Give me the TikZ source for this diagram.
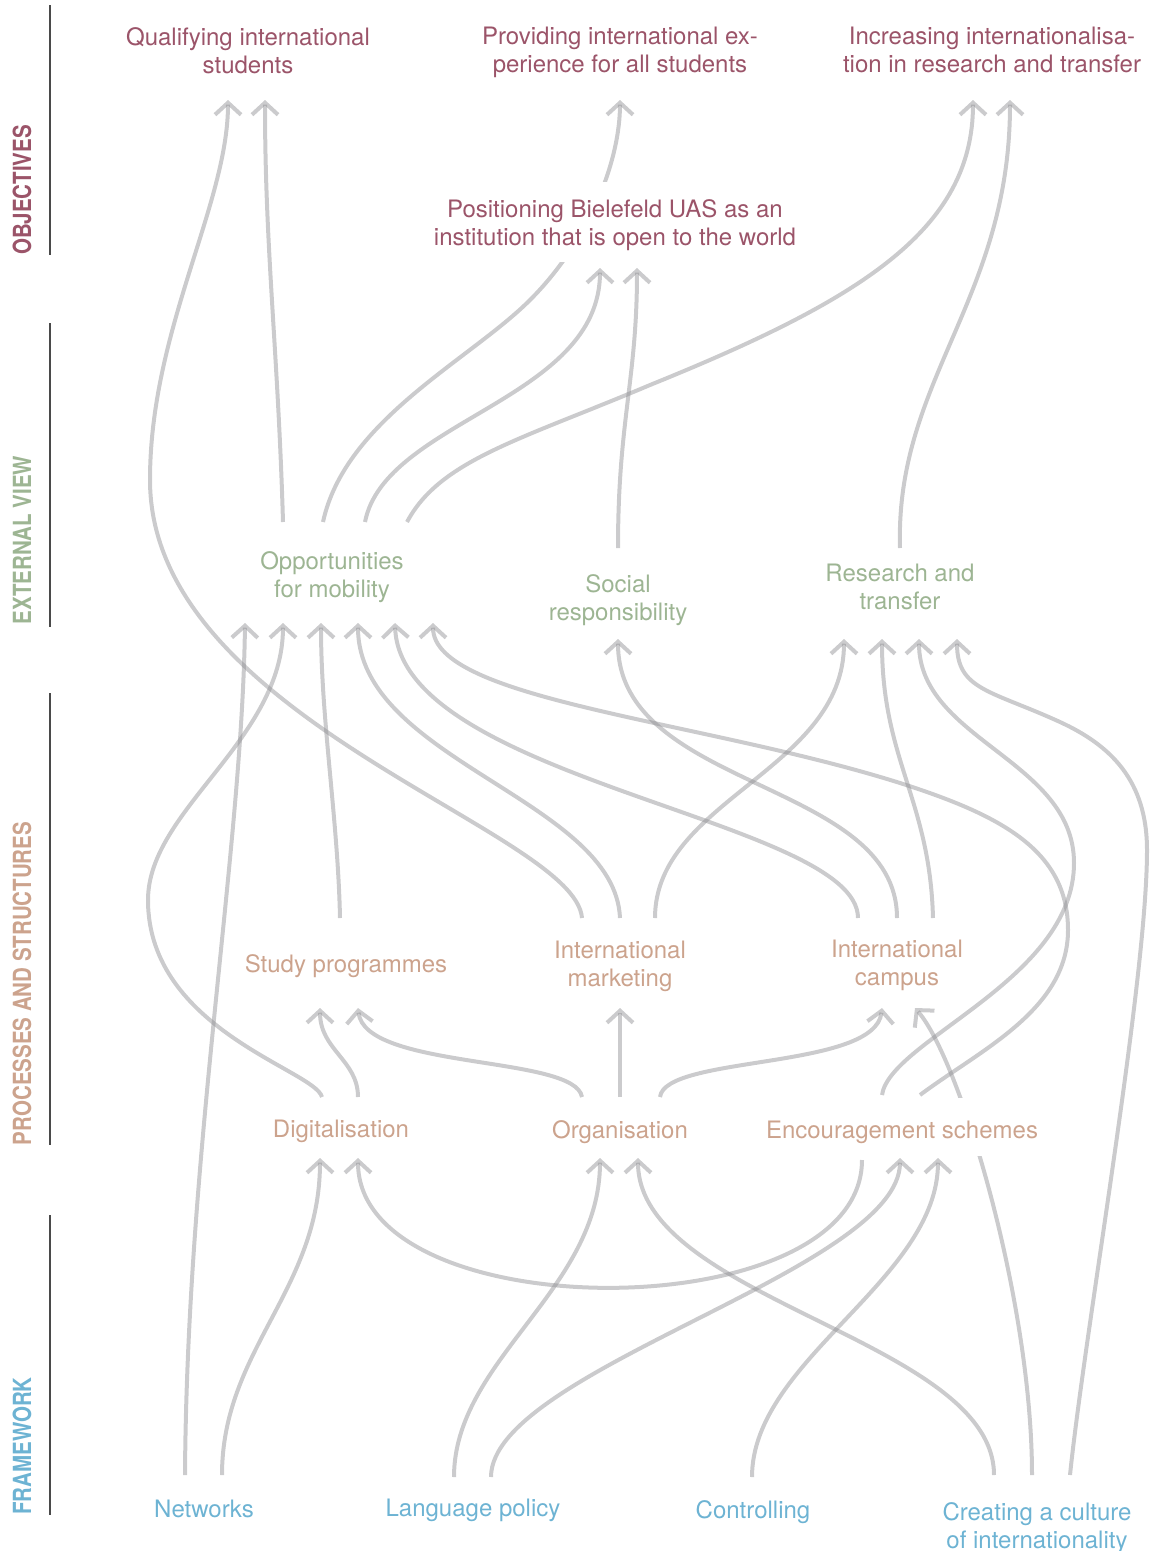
\documentclass[tikz,border=0pt]{standalone}
\usepackage{fontspec}
\setmainfont{TeX Gyre Heros}
\usetikzlibrary{arrows.meta}
\definecolor{objc}{HTML}{9B5469}
\definecolor{extc}{HTML}{9DB593}
\definecolor{procc}{HTML}{CCA38D}
\definecolor{framec}{HTML}{6DB3D3}
\definecolor{connc}{HTML}{8C8C90}
\definecolor{rulec}{HTML}{4A4A4A}
\begin{document}
\begin{tikzpicture}[x=1pt,y=-1pt,
  lbl/.style={align=center,inner sep=0pt,font=\fontsize{24}{28}\selectfont},
  objl/.style={lbl,text=objc},
  extl/.style={lbl,text=extc},
  procl/.style={lbl,text=procc},
  framel/.style={lbl,text=framec},
  sidelbl/.style={rotate=90,inner sep=0pt,font=\fontsize{25}{28}\selectfont\bfseries},
  siderule/.style={draw=rulec,line width=1.5pt},
  flow/.style={draw=connc,draw opacity=0.45,line width=4pt,-{Straight Barb[length=12pt,width=26pt]}}]
\useasboundingbox (0,0) rectangle (1160,1551);

% side labels and rules
\node[sidelbl,text=objc] (s-obj) at (22,190) {\scalebox{0.82}[1]{OBJECTIVES}};
\node[sidelbl,text=extc] (s-ext) at (22,540) {\scalebox{0.82}[1]{EXTERNAL VIEW}};
\node[sidelbl,text=procc] (s-proc) at (22,983.5) {\scalebox{0.82}[1]{PROCESSES AND STRUCTURES}};
\node[sidelbl,text=framec] (s-frame) at (22,1446) {\scalebox{0.82}[1]{FRAMEWORK}};
\draw[siderule] (50,5) -- (50,255);
\draw[siderule] (50,323) -- (50,627);
\draw[siderule] (50,693) -- (50,1145);
\draw[siderule] (50,1215) -- (50,1515);

% ports
\coordinate (qual-b1) at (228,100); \coordinate (qual-b2) at (265,100);
\coordinate (prov-b) at (620,100);
\coordinate (incr-b1) at (973,100); \coordinate (incr-b2) at (1010,100);
\coordinate (pos-b1) at (600,268); \coordinate (pos-b2) at (637,268);
\coordinate (opp-t1) at (283,522); \coordinate (opp-t2) at (323,522);
\coordinate (opp-t3) at (365,522); \coordinate (opp-t4) at (407,522);
\coordinate (opp-b1) at (245,623); \coordinate (opp-b2) at (283,623);
\coordinate (opp-b3) at (321,623); \coordinate (opp-b4) at (358,623);
\coordinate (opp-b5) at (395,623); \coordinate (opp-b6) at (433,623);
\coordinate (soc-t) at (618,548); \coordinate (soc-b) at (618,639);
\coordinate (res-t) at (900,548);
\coordinate (res-b1) at (844,639); \coordinate (res-b2) at (882,639);
\coordinate (res-b3) at (919,639); \coordinate (res-b4) at (957,639);
\coordinate (study-t) at (340,918);
\coordinate (study-b1) at (320,1008); \coordinate (study-b2) at (358,1008);
\coordinate (mkt-t1) at (582,918); \coordinate (mkt-t2) at (620,918); \coordinate (mkt-t3) at (655,918);
\coordinate (mkt-b) at (620,1008);
\coordinate (camp-t1) at (858,918); \coordinate (camp-t2) at (897,918); \coordinate (camp-t3) at (933,918);
\coordinate (camp-b1) at (882,1008); \coordinate (camp-b2) at (915,1008);
\coordinate (digi-t1) at (322,1097); \coordinate (digi-t2) at (358,1097);
\coordinate (digi-b1) at (320,1158); \coordinate (digi-b2) at (358,1158);
\coordinate (org-t1) at (582,1097); \coordinate (org-t2) at (620,1097); \coordinate (org-t3) at (660,1097);
\coordinate (org-b1) at (600,1158); \coordinate (org-b2) at (638,1158);
\coordinate (enc-t1) at (882,1095); \coordinate (enc-t2) at (920,1095);
\coordinate (enc-b1) at (900,1158); \coordinate (enc-b2) at (938,1158);
\coordinate (enc-s) at (862,1160);
\coordinate (net-t1) at (185,1475); \coordinate (net-t2) at (222,1475);
\coordinate (lang-t1) at (454,1477); \coordinate (lang-t2) at (491,1477);
\coordinate (ctrl-t) at (752,1477);
\coordinate (cult-t1) at (994,1475); \coordinate (cult-t2) at (1032,1475); \coordinate (cult-t3) at (1070,1475);

% connectors
\draw[flow] (net-t1) .. controls (187,1150) and (242,850) .. (opp-b1);
\draw[flow] (net-t2) .. controls (222,1350) and (320,1290) .. (digi-b1);
\draw[flow] (lang-t1) .. controls (454,1360) and (600,1290) .. (org-b1);
\draw[flow] (lang-t2) .. controls (491,1370) and (900,1270) .. (enc-b1);
\draw[flow] (ctrl-t) .. controls (752,1360) and (938,1280) .. (enc-b2);
\draw[flow] (cult-t1) .. controls (994,1340) and (638,1300) .. (org-b2);
\draw[flow] (cult-t2) .. controls (1032,1300) and (960,1060) .. (camp-b2);
\draw[flow] (cult-t3) .. controls (1085,1330) and (1147,980) .. (1147,850)
   .. controls (1147,780) and (1110,745) .. (1060,722)
   .. controls (990,690) and (957,690) .. (res-b4);
\draw[flow] (enc-s) .. controls (862,1330) and (358,1330) .. (digi-b2);
\draw[flow] (digi-t1) .. controls (315,1070) and (148,1030) .. (148,900)
   .. controls (148,810) and (283,740) .. (opp-b2);
\draw[flow] (digi-t2) .. controls (358,1060) and (320,1050) .. (study-b1);
\draw[flow] (org-t1) .. controls (575,1055) and (365,1070) .. (study-b2);
\draw[flow] (org-t2) -- (mkt-b);
\draw[flow] (org-t3) .. controls (665,1055) and (875,1070) .. (camp-b1);
\draw[flow] (enc-t1) .. controls (890,1040) and (1074,980) .. (1074,863)
   .. controls (1074,760) and (919,740) .. (res-b3);
\draw[flow] (enc-t2) .. controls (980,1050) and (1068,1010) .. (1068,930)
   .. controls (1068,850) and (1000,815) .. (900,783)
   .. controls (700,720) and (433,700) .. (opp-b6);
\draw[flow] (study-t) .. controls (338,820) and (321,720) .. (opp-b3);
\draw[flow] (mkt-t1) .. controls (575,830) and (150,720) .. (150,480)
   .. controls (150,330) and (228,204) .. (qual-b1);
\draw[flow] (mkt-t2) .. controls (615,800) and (358,760) .. (opp-b4);
\draw[flow] (mkt-t3) .. controls (655,800) and (844,770) .. (res-b1);
\draw[flow] (camp-t1) .. controls (858,820) and (400,780) .. (opp-b5);
\draw[flow] (camp-t2) .. controls (897,780) and (618,790) .. (soc-b);
\draw[flow] (camp-t3) .. controls (930,800) and (882,760) .. (res-b2);
\draw[flow] (opp-t1) .. controls (278,350) and (265,250) .. (qual-b2);
\draw[flow] (opp-t2) .. controls (345,420) and (470,360) .. (530,300)
   .. controls (590,240) and (620,160) .. (prov-b);
\draw[flow] (opp-t3) .. controls (385,420) and (600,400) .. (pos-b1);
\draw[flow] (opp-t4) .. controls (440,460) and (520,440) .. (650,385)
   .. controls (860,300) and (973,230) .. (incr-b1);
\draw[flow] (soc-t) .. controls (618,420) and (637,380) .. (pos-b2);
\draw[flow] (res-t) .. controls (895,380) and (1010,300) .. (incr-b2);

% gaps where connectors pass behind labels
\fill[white] (540,182) rectangle (645,262);
\fill[white] (945,1098) rectangle (1000,1156);

% labels
\node[objl] (qual) at (248,50.3) {Qualifying international\\students};
\node[objl] (prov) at (620,52.7) {Providing international ex-\\perience for all students};
\node[objl] (incr) at (992,50.3) {Increasing internationalisa-\\tion in research and transfer};
\node[objl] (pos) at (615,224.7) {Positioning Bielefeld UAS as an\\institution that is open to the world};
\node[extl] (opp) at (332,576.8) {Opportunities\\for mobility};
\node[extl] (soc) at (618,599.8) {Social\\responsibility};
\node[extl] (res) at (900,587.3) {Research and\\transfer};
\node[procl] (study) at (346,965.7) {Study programmes};
\node[procl] (mkt) at (620,966.8) {International\\marketing};
\node[procl] (camp) at (897,965.7) {International\\campus};
\node[procl] (digi) at (341,1131.7) {Digitalisation};
\node[procl] (org) at (620,1131.7) {Organisation};
\node[procl] (enc) at (902,1132.7) {Encouragement schemes};
\node[framel] (net) at (204,1509.3) {Networks};
\node[framel] (lang) at (473,1510.7) {Language policy};
\node[framel] (ctrl) at (753,1511.7) {Controlling};
\node[framel] (cult) at (1037,1528) {Creating a culture\\of internationality};
\end{tikzpicture}
\end{document}
